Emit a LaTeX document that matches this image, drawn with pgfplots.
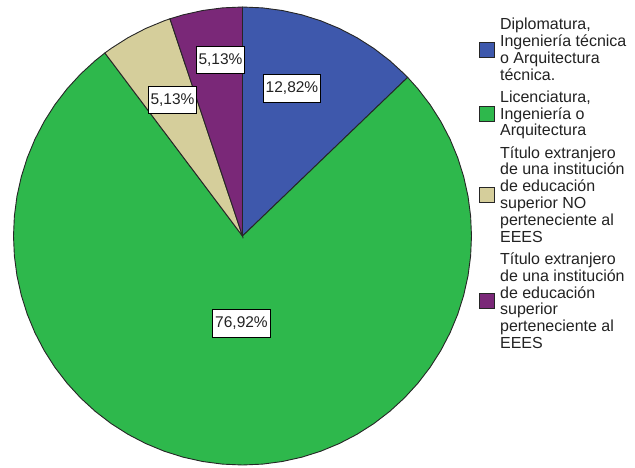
\documentclass[border=0pt]{standalone}
\usepackage{pgfplots}
\pgfplotsset{compat=1.18}
\usepackage{fontspec}
\setmainfont{Liberation Sans}
\definecolor{cblue}{HTML}{3E58AC}
\definecolor{cgreen}{HTML}{2EB84C}
\definecolor{ctan}{HTML}{D5CE9B}
\definecolor{cpurple}{HTML}{7A2878}
\definecolor{ctext}{HTML}{222222}
\begin{document}
\begin{tikzpicture}[x=1pt,y=1pt]
\useasboundingbox (0,0) rectangle (635,467);
\begin{axis}[
  at={(13.5pt,2pt)}, anchor=south west,
  width=458pt, height=458pt, scale only axis,
  xmin=-1, xmax=1, ymin=-1, ymax=1,
  hide axis, clip=false,
  legend cell align=left,
  legend image code/.code={\draw[#1,line width=0.9pt,draw=black!85] (0pt,-7.5pt) rectangle (15pt,7.5pt); \path (20.5pt,0pt);},
  legend style={draw=none, fill=none, at={(1.0153,0.976)}, anchor=north west,
    inner sep=0pt, row sep=9pt, column sep=0pt,
    font=\fontsize{16}{16.8}\selectfont\color{ctext},
    nodes={align=left, inner sep=0pt}},
]
\addplot[fill=cblue, draw=black!85, line width=0.9pt, data cs=polar] coordinates {
(0,0) (90,1) (85,1) (80,1) (75,1) (70,1) (65,1) (60,1) (55,1) (50,1) (45,1) (43.848,1)
} -- cycle;
\addlegendentry{Diplomatura,\\Ingeniería técnica\\o Arquitectura\\técnica.}
\addplot[fill=cgreen, draw=black!85, line width=0.9pt, data cs=polar] coordinates {
(0,0) (43.848,1) (40,1) (35,1) (30,1) (25,1) (20,1) (15,1) (10,1) (5,1) (0,1)
(-5,1) (-10,1) (-15,1) (-20,1) (-25,1) (-30,1) (-35,1) (-40,1) (-45,1) (-50,1)
(-55,1) (-60,1) (-65,1) (-70,1) (-75,1) (-80,1) (-85,1) (-90,1) (-95,1) (-100,1)
(-105,1) (-110,1) (-115,1) (-120,1) (-125,1) (-130,1) (-135,1) (-140,1) (-145,1) (-150,1)
(-155,1) (-160,1) (-165,1) (-170,1) (-175,1) (-180,1) (-185,1) (-190,1) (-195,1) (-200,1)
(-205,1) (-210,1) (-215,1) (-220,1) (-225,1) (-230,1) (-233.064,1)
} -- cycle;
\addlegendentry{Licenciatura,\\Ingeniería o\\Arquitectura}
\addplot[fill=ctan, draw=black!85, line width=0.9pt, data cs=polar] coordinates {
(0,0) (126.936,1) (125,1) (120,1) (115,1) (110,1) (108.468,1)
} -- cycle;
\addlegendentry{Título extranjero\\de una institución\\de educación\\superior NO\\perteneciente al\\EEES}
\addplot[fill=cpurple, draw=black!85, line width=0.9pt, data cs=polar] coordinates {
(0,0) (108.468,1) (105,1) (100,1) (95,1) (90,1)
} -- cycle;
\addlegendentry{Título extranjero\\de una institución\\de educación\\superior\\perteneciente al\\EEES}
\end{axis}
\tikzset{plab/.style={draw=black, fill=white, line width=1pt, inner xsep=2.5pt, inner ysep=7.5pt,
  font=\fontsize{15.5}{15.5}\selectfont, text=ctext}}
\node[plab] at (292,378.5) {12,82\%};
\node[plab] at (220.5,407) {5,13\%};
\node[plab] at (172.5,367) {5,13\%};
\node[plab] at (241.5,143.5) {76,92\%};
\end{tikzpicture}
\end{document}
